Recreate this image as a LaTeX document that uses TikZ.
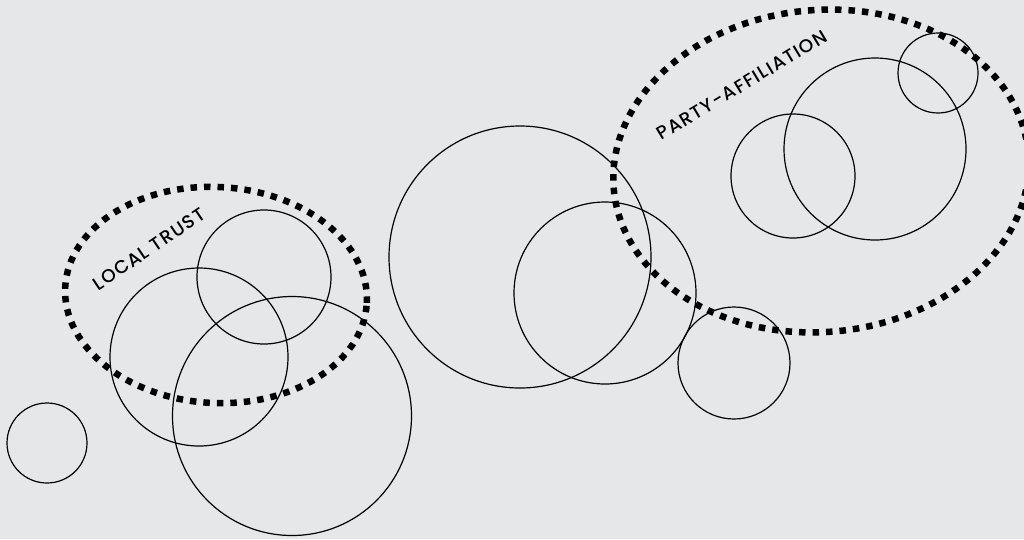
\documentclass[tikz,border=0pt]{standalone}
\usepackage{fontspec}
\setmainfont{Poppins}
\newfontfamily\tagfont{Poppins Medium}[LetterSpace=7]
\usetikzlibrary{shapes.geometric}
\definecolor{paper}{HTML}{E6E7E8}
\tikzset{
    ring/.style={draw=black, line width=1.2pt, circle, inner sep=0pt, minimum size=#1},
    group/.style={draw=black, line width=6.5pt, dash pattern=on 6.5pt off 7pt, ellipse, inner sep=0pt},
    tag/.style={font=\tagfont\fontsize{18.5}{20}\selectfont, text=black, inner sep=0pt}
}

\begin{document}
\begin{tikzpicture}[x=1pt, y=-1pt]
        \fill [paper] (0,0) rectangle (1024,539);
        \useasboundingbox (0,0) rectangle (1024,539);
        \clip (0,0) rectangle (1024,539);
        % groups
        \node [group, minimum width=302pt, minimum height=216pt, rotate=-3] (trust) at (216,295) {};
        \node [group, minimum width=416pt, minimum height=322pt, rotate=5] (party) at (821,171) {};
        % circles
        \node [ring=80pt] (c1) at (47,443) {};
        \node [ring=178pt] (c2) at (199,357) {};
        \node [ring=134pt] (c3) at (264,277) {};
        \node [ring=239pt] (c4) at (292,416) {};
        \node [ring=262pt] (c5) at (520,257) {};
        \node [ring=182pt] (c6) at (605,293) {};
        \node [ring=112pt] (c7) at (734,363) {};
        \node [ring=124pt] (c8) at (793,176) {};
        \node [ring=182pt] (c9) at (875,149) {};
        \node [ring=80pt] (c10) at (938,73) {};
        % labels
        \node [tag, rotate=34] (trustlabel) at (149,249) {LOCAL TRUST};
        \node [tag, rotate=31] (partylabel) at (742,85) {PARTY-AFFILIATION};
    \end{tikzpicture}
\end{document}
